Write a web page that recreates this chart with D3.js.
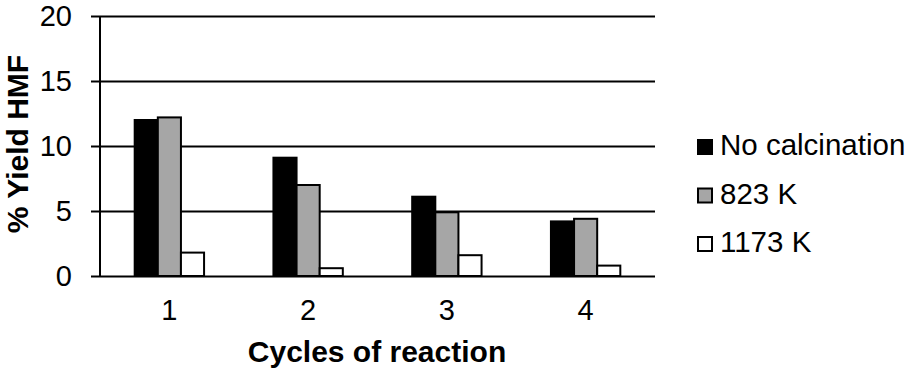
<!DOCTYPE html>
<html>
<head>
<meta charset="utf-8">
<script src="https://cdn.jsdelivr.net/npm/d3@7.9.0/dist/d3.min.js"></script>
<style>
  body { margin: 0; background: #fff; }
  svg { display: block; font-family: "Liberation Sans", Arial, sans-serif; }
</style>
</head>
<body>
<svg width="913" height="373"></svg>
<script>
const cycles = ["1", "2", "3", "4"];
const seriesNames = ["No calcination", "823 K", "1173 K"];
const noCalcination = [12.0, 9.1, 6.1, 4.2];
const k823 = [12.2, 7.0, 4.9, 4.4];
const k1173 = [1.8, 0.6, 1.6, 0.8];
const yTicks = [0, 5, 10, 15, 20];
const colors = ["#000000", "#a6a6a6", "#ffffff"];

const seriesValues = [noCalcination, k823, k1173];

const svg = d3.select("svg");
const plotLeft = 100, plotRight = 655, plotTop = 16, plotBottom = 276;

const x = d3.scaleBand().domain(cycles).range([plotLeft, plotRight])
  .paddingInner(0.5).paddingOuter(0.25);
const xSub = d3.scaleBand().domain(seriesNames).range([0, x.bandwidth()]);
const y = d3.scaleLinear().domain([0, 20]).range([plotBottom, plotTop]);

// gridlines + ticks
const yAxis = svg.append("g")
  .attr("transform", `translate(${plotLeft},0)`)
  .call(d3.axisLeft(y).tickValues(yTicks).tickSize(9).tickPadding(19)
    .tickFormat(d3.format("d")));
yAxis.select(".domain").remove();
yAxis.selectAll(".tick line").clone()
  .attr("x2", plotRight - plotLeft);
yAxis.selectAll(".tick line").attr("stroke", "#000").attr("stroke-width", 2);
yAxis.selectAll(".tick text")
  .attr("font-size", 29).attr("fill", "#000")
  .attr("font-family", "Liberation Sans, Arial, sans-serif");

// bars
const groups = svg.append("g").selectAll("g")
  .data(cycles)
  .join("g")
  .attr("transform", (d) => `translate(${x(d)},0)`);

groups.selectAll("rect")
  .data((d, i) => seriesNames.map((s, j) => ({ s, j, v: seriesValues[j][i] })))
  .join("rect")
  .attr("x", (d) => xSub(d.s))
  .attr("width", xSub.bandwidth())
  .attr("y", (d) => y(d.v))
  .attr("height", (d) => y(0) - y(d.v))
  .attr("fill", (d) => colors[d.j])
  .attr("stroke", "#000")
  .attr("stroke-width", 2);

// y axis line
svg.append("line")
  .attr("x1", plotLeft).attr("x2", plotLeft)
  .attr("y1", plotTop).attr("y2", plotBottom)
  .attr("stroke", "#000").attr("stroke-width", 2);

// x labels
svg.append("g").selectAll("text")
  .data(cycles)
  .join("text")
  .attr("x", (d) => x(d) + x.bandwidth() / 2)
  .attr("y", 320)
  .attr("text-anchor", "middle")
  .attr("font-size", 29)
  .text((d) => d);

svg.append("text")
  .attr("x", 377).attr("y", 362)
  .attr("text-anchor", "middle")
  .attr("font-size", 30).attr("font-weight", "bold")
  .text("Cycles of reaction");

svg.append("text")
  .attr("transform", "translate(28,144) rotate(-90)")
  .attr("text-anchor", "middle")
  .attr("font-size", 30).attr("font-weight", "bold")
  .text("% Yield HMF");

// legend
const legend = svg.append("g").selectAll("g")
  .data(seriesNames)
  .join("g")
  .attr("transform", (d, i) => `translate(698,${155 + i * 48.5})`);
legend.append("rect")
  .attr("x", 0).attr("y", -15)
  .attr("width", 14).attr("height", 14)
  .attr("fill", (d, i) => colors[i])
  .attr("stroke", "#000").attr("stroke-width", 2);
legend.append("text")
  .attr("x", 22).attr("y", 0)
  .attr("font-size", 29.5)
  .text((d) => d);
</script>
</body>
</html>
